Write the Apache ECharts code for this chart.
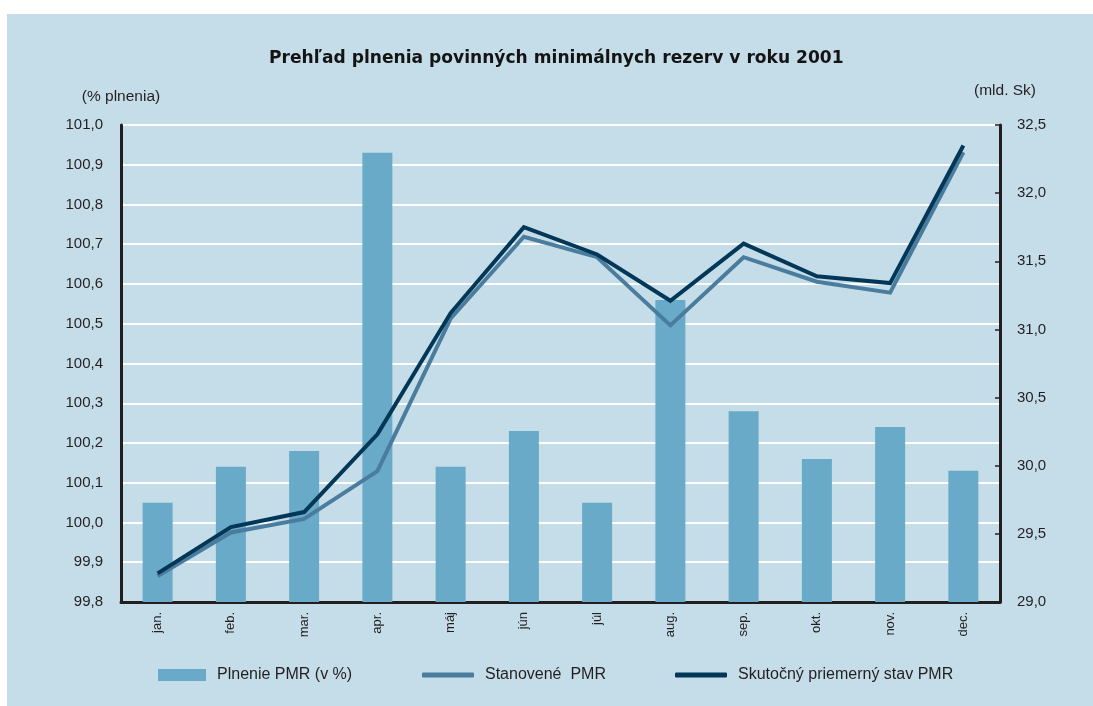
<!DOCTYPE html>
<html>
<head>
<meta charset="utf-8">
<script src="https://cdn.jsdelivr.net/npm/echarts@6/dist/echarts.min.js"></script>
<style>
  html, body { margin: 0; padding: 0; background: #ffffff; }
  #main { position: absolute; left: 7px; top: 14px; width: 1086px; height: 692px; background: #c5dde8; }
</style>
</head>
<body>
<div id="main"></div>
<script>
// mesiace
const months = ['jan.', 'feb.', 'mar.', 'apr.', 'máj', 'jún', 'júl', 'aug.', 'sep.', 'okt.', 'nov.', 'dec.'];
// plnenie PMR v % (lavá os)
const plnenie = [100.05, 100.14, 100.18, 100.93, 100.14, 100.23, 100.05, 100.56, 100.28, 100.16, 100.24, 100.13];
// stanovené PMR (mld. Sk, pravá os)
const stanovene = [29.19, 29.51, 29.61, 29.96, 31.08, 31.68, 31.53, 31.03, 31.53, 31.35, 31.27, 32.30];
// skutočný priemerný stav PMR (mld. Sk, pravá os)
const skutocny = [29.21, 29.55, 29.66, 30.23, 31.12, 31.75, 31.55, 31.21, 31.63, 31.39, 31.34, 32.35];
// rozsah osí
const leftAxis = { min: 99.8, max: 101.0, step: 0.1 };
const rightAxis = { min: 29.0, max: 32.5, step: 0.5 };

const font = '"Liberation Sans", Arial, sans-serif';
const textColor = '#231f20';
const comma = v => v.toFixed(1).replace('.', ',');

const chart = echarts.init(document.getElementById('main'));

const legendBase = {
  top: 653,
  padding: 0,
  textStyle: { fontFamily: font, fontSize: 16, color: textColor, padding: [0, 0, 0, 6] }
};

const option = {
  animation: false,
  textStyle: { fontFamily: font },
  title: {
    text: 'Prehľad plnenia povinných minimálnych rezerv v roku 2001',
    left: 257,
    top: 31,
    textStyle: { fontFamily: '"DejaVu Sans", sans-serif', fontSize: 17.1, fontWeight: 'bold', color: '#141414' }
  },
  legend: [
    Object.assign({}, legendBase, {
      left: 151, data: ['Plnenie PMR (v %)'],
      itemWidth: 48, itemHeight: 12, icon: 'rect'
    }),
    Object.assign({}, legendBase, {
      left: 415, data: ['Stanovené  PMR'],
      itemWidth: 52, itemHeight: 5, icon: 'roundRect'
    }),
    Object.assign({}, legendBase, {
      left: 668, data: ['Skutočný priemerný stav PMR'],
      itemWidth: 52, itemHeight: 5, icon: 'roundRect'
    })
  ],
  grid: { left: 114, right: 93, top: 111, bottom: 104 },
  xAxis: {
    type: 'category',
    data: months,
    axisLine: { lineStyle: { color: '#231f20', width: 3 } },
    axisTick: { show: false },
    axisLabel: { rotate: 90, margin: 10, fontSize: 13, color: textColor, fontFamily: font }
  },
  yAxis: [
    {
      type: 'value',
      min: leftAxis.min, max: leftAxis.max, interval: leftAxis.step,
      name: '(% plnenia)',
      nameLocation: 'end',
      nameGap: 20,
      nameTextStyle: { fontSize: 15.5, color: textColor, fontFamily: font },
      axisLine: { show: true, lineStyle: { color: '#231f20', width: 3 } },
      axisTick: { show: false },
      axisLabel: { margin: 18, fontSize: 15, color: textColor, fontFamily: font, formatter: comma },
      splitLine: { lineStyle: { color: '#ffffff', width: 2 } }
    },
    {
      type: 'value',
      min: rightAxis.min, max: rightAxis.max, interval: rightAxis.step,
      name: '(mld. Sk)',
      nameLocation: 'end',
      nameGap: 26,
      nameTextStyle: { fontSize: 15.5, color: textColor, fontFamily: font, padding: [0, 0, 0, 10] },
      axisLine: { show: true, lineStyle: { color: '#231f20', width: 3 } },
      axisTick: { show: true, inside: true, length: 5, lineStyle: { color: '#231f20', width: 1.5 } },
      axisLabel: { margin: 17, fontSize: 15, color: textColor, fontFamily: font, formatter: comma },
      splitLine: { show: false }
    }
  ],
  series: [
    {
      name: 'Plnenie PMR (v %)',
      type: 'bar',
      yAxisIndex: 0,
      barWidth: 30,
      data: plnenie,
      itemStyle: { color: '#68aac7' }
    },
    {
      name: 'Stanovené  PMR',
      type: 'line',
      yAxisIndex: 1,
      data: stanovene,
      symbol: 'none',
      color: '#4a7d9d',
      lineStyle: { color: '#4a7d9d', width: 4, join: 'miter' },
      z: 3
    },
    {
      name: 'Skutočný priemerný stav PMR',
      type: 'line',
      yAxisIndex: 1,
      data: skutocny,
      symbol: 'none',
      color: '#023758',
      lineStyle: { color: '#023758', width: 4, join: 'miter' },
      z: 4
    }
  ]
};

chart.setOption(option);
</script>
</body>
</html>
